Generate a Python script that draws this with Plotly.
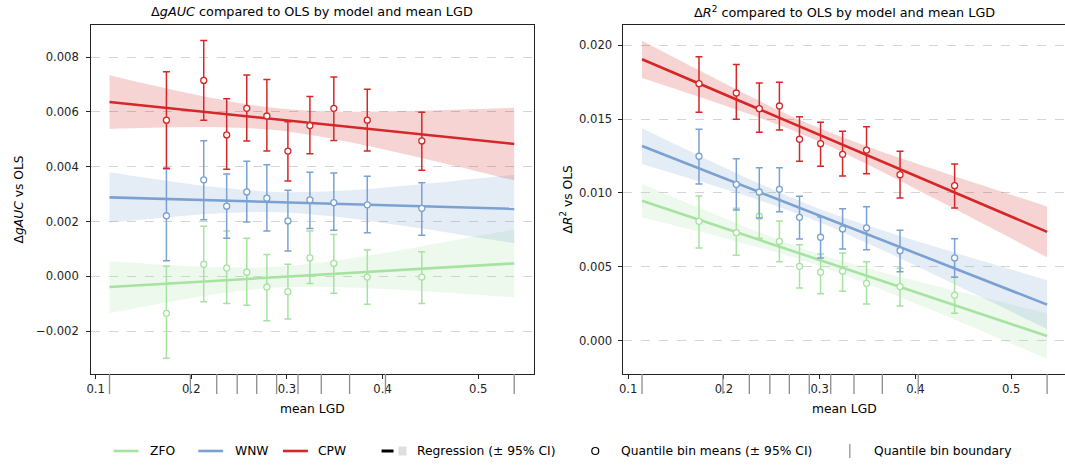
import plotly.graph_objects as go

W, H = 1065, 465

# ---------------- data ----------------
models = ["ZFO", "WNW", "CPW"]
x_bin = [0.174, 0.213, 0.237, 0.258, 0.279, 0.301, 0.324, 0.349, 0.384, 0.441]
x_boundary = [0.1145, 0.199, 0.2266, 0.248, 0.2684, 0.2892, 0.3116, 0.3359, 0.3655, 0.403, 0.5376]
x_line = [0.1145, 0.5376]
x_band = [0.1145, 0.17, 0.23, 0.29, 0.35, 0.42, 0.48, 0.5376]
x_ticks = [0.1, 0.2, 0.3, 0.4, 0.5]
x_ticklabels = ["0.1", "0.2", "0.3", "0.4", "0.5"]

# Left panel: delta gAUC
gauc_ticks = [-0.002, 0.0, 0.002, 0.004, 0.006, 0.008]
gauc_ticklabels = ["\u22120.002", "0.000", "0.002", "0.004", "0.006", "0.008"]

gauc_zfo_mean = [-0.00135, 0.00044, 0.00030, 0.00015, -0.00039, -0.00056, 0.00067, 0.00047, -0.00003, -0.00003]
gauc_zfo_lo = [-0.00299, -0.00093, -0.00099, -0.00106, -0.00162, -0.00156, -0.00026, -0.00062, -0.00102, -0.00099]
gauc_zfo_hi = [0.00037, 0.00183, 0.00165, 0.00139, 0.00080, 0.00044, 0.00165, 0.00153, 0.00096, 0.00090]

gauc_wnw_mean = [0.00221, 0.00352, 0.00256, 0.00308, 0.00285, 0.00202, 0.00279, 0.00269, 0.00261, 0.00248]
gauc_wnw_lo = [0.00057, 0.00206, 0.00139, 0.00198, 0.00165, 0.00092, 0.00174, 0.00168, 0.00159, 0.00150]
gauc_wnw_hi = [0.00392, 0.00495, 0.00373, 0.00420, 0.00407, 0.00314, 0.00380, 0.00377, 0.00365, 0.00341]

gauc_cpw_mean = [0.00570, 0.00715, 0.00516, 0.00613, 0.00585, 0.00457, 0.00550, 0.00613, 0.00570, 0.00494]
gauc_cpw_lo = [0.00394, 0.00570, 0.00391, 0.00494, 0.00457, 0.00348, 0.00447, 0.00496, 0.00457, 0.00387]
gauc_cpw_hi = [0.00747, 0.00861, 0.00648, 0.00735, 0.00718, 0.00564, 0.00656, 0.00727, 0.00683, 0.00599]

gauc_zfo_line = [-0.00039, 0.00047]
gauc_wnw_line = [0.00288, 0.00246]
gauc_cpw_line = [0.00636, 0.00483]

gauc_zfo_band_hi = [0.00056, 0.00042, 0.00033, 0.00035, 0.00057, 0.00096, 0.00135, 0.00171]
gauc_zfo_band_lo = [-0.00134, -0.00098, -0.00063, -0.00041, -0.00039, -0.00050, -0.00063, -0.00077]
gauc_wnw_band_hi = [0.00380, 0.00351, 0.00324, 0.00308, 0.00311, 0.00330, 0.00350, 0.00370]
gauc_wnw_band_lo = [0.00196, 0.00214, 0.00230, 0.00234, 0.00218, 0.00185, 0.00153, 0.00121]
gauc_cpw_band_hi = [0.00734, 0.00689, 0.00645, 0.00613, 0.00601, 0.00603, 0.00609, 0.00615]
gauc_cpw_band_lo = [0.00538, 0.00543, 0.00544, 0.00533, 0.00500, 0.00448, 0.00399, 0.00350]

# Right panel: delta R^2
r2_ticks = [0.0, 0.005, 0.010, 0.015, 0.020]
r2_ticklabels = ["0.000", "0.005", "0.010", "0.015", "0.020"]

r2_zfo_mean = [0.00808, 0.00731, 0.00842, 0.00672, 0.00503, 0.00463, 0.00470, 0.00388, 0.00366, 0.00307]
r2_zfo_lo = [0.00627, 0.00578, 0.00693, 0.00535, 0.00357, 0.00318, 0.00334, 0.00248, 0.00235, 0.00185]
r2_zfo_hi = [0.00979, 0.00896, 0.00990, 0.00810, 0.00650, 0.00587, 0.00593, 0.00535, 0.00490, 0.00431]

r2_wnw_mean = [0.01248, 0.01058, 0.01006, 0.01024, 0.00835, 0.00700, 0.00756, 0.00763, 0.00609, 0.00560]
r2_wnw_lo = [0.01060, 0.00884, 0.00830, 0.00873, 0.00688, 0.00560, 0.00620, 0.00616, 0.00467, 0.00429]
r2_wnw_hi = [0.01430, 0.01231, 0.01170, 0.01170, 0.00977, 0.00837, 0.00893, 0.00907, 0.00747, 0.00690]

r2_cpw_mean = [0.01739, 0.01676, 0.01570, 0.01588, 0.01363, 0.01333, 0.01261, 0.01290, 0.01123, 0.01049]
r2_cpw_lo = [0.01545, 0.01498, 0.01410, 0.01426, 0.01214, 0.01180, 0.01114, 0.01130, 0.00965, 0.00898]
r2_cpw_hi = [0.01922, 0.01868, 0.01744, 0.01748, 0.01516, 0.01478, 0.01417, 0.01448, 0.01281, 0.01196]

r2_zfo_line = [0.00947, 0.00032]
r2_wnw_line = [0.01317, 0.00244]
r2_cpw_line = [0.01904, 0.00736]

r2_zfo_band_hi = [0.01060, 0.00909, 0.00751, 0.00607, 0.00491, 0.00374, 0.00277, 0.00186]
r2_zfo_band_lo = [0.00834, 0.00745, 0.00643, 0.00527, 0.00384, 0.00199, 0.00036, -0.00122]
r2_wnw_band_hi = [0.01438, 0.01265, 0.01083, 0.00917, 0.00779, 0.00637, 0.00520, 0.00409]
r2_wnw_band_lo = [0.01196, 0.01087, 0.00965, 0.00827, 0.00660, 0.00447, 0.00260, 0.00079]
r2_cpw_band_hi = [0.02030, 0.01843, 0.01645, 0.01464, 0.01314, 0.01158, 0.01030, 0.00908]
r2_cpw_band_lo = [0.01778, 0.01659, 0.01525, 0.01374, 0.01193, 0.00962, 0.00760, 0.00564]

# ---------------- styling ----------------
colors = {"ZFO": "#a6e3a0", "WNW": "#7aa1d2", "CPW": "#d62728"}
band_colors = {"ZFO": "rgba(166,227,160,0.2)", "WNW": "rgba(122,161,210,0.2)", "CPW": "rgba(214,39,40,0.2)"}
FONT = "DejaVu Sans"
TICK_SIZE = 11.6
LABEL_SIZE = 12.3
TITLE_SIZE = 12.8
AXC = "#222222"

panels = {
    "gauc": {
        "xa": "x", "ya": "y",
        "mean": {"ZFO": gauc_zfo_mean, "WNW": gauc_wnw_mean, "CPW": gauc_cpw_mean},
        "lo": {"ZFO": gauc_zfo_lo, "WNW": gauc_wnw_lo, "CPW": gauc_cpw_lo},
        "hi": {"ZFO": gauc_zfo_hi, "WNW": gauc_wnw_hi, "CPW": gauc_cpw_hi},
        "line": {"ZFO": gauc_zfo_line, "WNW": gauc_wnw_line, "CPW": gauc_cpw_line},
        "bhi": {"ZFO": gauc_zfo_band_hi, "WNW": gauc_wnw_band_hi, "CPW": gauc_cpw_band_hi},
        "blo": {"ZFO": gauc_zfo_band_lo, "WNW": gauc_wnw_band_lo, "CPW": gauc_cpw_band_lo},
    },
    "r2": {
        "xa": "x2", "ya": "y2",
        "mean": {"ZFO": r2_zfo_mean, "WNW": r2_wnw_mean, "CPW": r2_cpw_mean},
        "lo": {"ZFO": r2_zfo_lo, "WNW": r2_wnw_lo, "CPW": r2_cpw_lo},
        "hi": {"ZFO": r2_zfo_hi, "WNW": r2_wnw_hi, "CPW": r2_cpw_hi},
        "line": {"ZFO": r2_zfo_line, "WNW": r2_wnw_line, "CPW": r2_cpw_line},
        "bhi": {"ZFO": r2_zfo_band_hi, "WNW": r2_wnw_band_hi, "CPW": r2_cpw_band_hi},
        "blo": {"ZFO": r2_zfo_band_lo, "WNW": r2_wnw_band_lo, "CPW": r2_cpw_band_lo},
    },
}

fig = go.Figure()

for key, p in panels.items():
    xa, ya = p["xa"], p["ya"]
    for m in models:
        # CI band
        fig.add_trace(go.Scatter(x=x_band, y=p["blo"][m], xaxis=xa, yaxis=ya, mode="lines",
                                 line=dict(width=0, shape="spline", smoothing=1.0),
                                 showlegend=False, hoverinfo="skip"))
        fig.add_trace(go.Scatter(x=x_band, y=p["bhi"][m], xaxis=xa, yaxis=ya, mode="lines",
                                 line=dict(width=0, shape="spline", smoothing=1.0),
                                 fill="tonexty", fillcolor=band_colors[m],
                                 showlegend=False, hoverinfo="skip"))
    for m in models:
        c = colors[m]
        # regression line
        fig.add_trace(go.Scatter(x=x_line, y=p["line"][m], xaxis=xa, yaxis=ya, mode="lines",
                                 line=dict(color=c, width=2.6), showlegend=False))
        # quantile bin means with CI
        mean = p["mean"][m]
        err_plus = [h - v for h, v in zip(p["hi"][m], mean)]
        err_minus = [v - l for l, v in zip(p["lo"][m], mean)]
        fig.add_trace(go.Scatter(x=x_bin, y=mean, xaxis=xa, yaxis=ya, mode="markers",
                                 marker=dict(symbol="circle", size=6, color="white",
                                             line=dict(color=c, width=1.3)),
                                 error_y=dict(type="data", array=err_plus, arrayminus=err_minus,
                                              color=c, thickness=1.5, width=3.5),
                                 showlegend=False))

# quantile bin boundary marks under each x axis
shapes = []
for xa in ["x", "x2"]:
    yref = "y domain" if xa == "x" else "y2 domain"
    for b in x_boundary:
        shapes.append(dict(type="line", xref=xa, yref=yref, x0=b, x1=b, y0=0, y1=-20 / 349,
                           line=dict(color="#8c8c8c", width=1.3)))

y_dom = [1 - 374 / H, 1 - 25 / H]
axis_common = dict(showline=True, linecolor=AXC, linewidth=1, ticks="outside", ticklen=3.5,
                   tickwidth=0.9, tickcolor=AXC, zeroline=False,
                   tickfont=dict(family=FONT, size=TICK_SIZE, color=AXC))

fig.update_layout(
    width=W, height=H,
    margin=dict(l=0, r=0, t=0, b=0),
    paper_bgcolor="white", plot_bgcolor="white",
    showlegend=False,
    font=dict(family=FONT, size=TICK_SIZE, color=AXC),
    xaxis=dict(domain=[87 / W, 532 / W], range=[0.0948, 0.5583], tickvals=x_ticks, ticktext=x_ticklabels,
               mirror=True, showgrid=False, anchor="y", ticklabelstandoff=1, **axis_common),
    yaxis=dict(domain=y_dom, range=[-0.003566, 0.009172], tickvals=gauc_ticks, ticktext=gauc_ticklabels,
               mirror=True, showgrid=True, gridcolor="#d4d4d4", griddash="dash", gridwidth=0.8,
               anchor="x", ticklabelstandoff=5, **axis_common),
    xaxis2=dict(domain=[621.3 / W, 1.0], range=[0.0946, 0.5563], tickvals=x_ticks, ticktext=x_ticklabels,
                mirror=True, showgrid=False, anchor="y2", ticklabelstandoff=1, **axis_common),
    yaxis2=dict(domain=y_dom, range=[-0.002253, 0.02136], tickvals=r2_ticks, ticktext=r2_ticklabels,
                mirror=False, showgrid=True, gridcolor="#d4d4d4", griddash="dash", gridwidth=0.8,
                anchor="x2", ticklabelstandoff=4, **axis_common),
)

ann = []
def A(text, x, y, size=LABEL_SIZE, xanchor="center", yanchor="middle", angle=0):
    ann.append(dict(text=text, x=x / W, y=1 - y / H, xref="paper", yref="paper", showarrow=False,
                    xanchor=xanchor, yanchor=yanchor, textangle=angle,
                    font=dict(family=FONT, size=size, color="black")))

# titles
A("\u0394<i>gAUC</i> compared to OLS by model and mean LGD", 309.5, 12, size=TITLE_SIZE)
A("\u0394<i>R</i><sup>2</sup> compared to OLS by model and mean LGD", 843.5, 12, size=TITLE_SIZE)
# axis titles
A("mean LGD", 309.5, 409)
A("mean LGD", 843.5, 409)
A("\u0394<i>gAUC</i> vs OLS", 16, 199.5, angle=-90)
A("\u0394<i>R</i><sup>2</sup> vs OLS", 565, 199.5, angle=-90)

# legend (manual, bottom)
LY = 451
leg_shapes = []
def LS(**kw):
    leg_shapes.append(kw)
for m, x0, tx in [("ZFO", 110, 145), ("WNW", 195, 230), ("CPW", 280, 313)]:
    LS(type="line", xref="paper", yref="paper", x0=x0 / W, x1=(x0 + 25) / W, y0=1 - LY / H, y1=1 - LY / H,
       line=dict(color=colors[m], width=2.6))
    A(m, tx, LY, xanchor="left")
# Regression
LS(type="line", xref="paper", yref="paper", x0=379 / W, x1=391 / W, y0=1 - LY / H, y1=1 - LY / H,
   line=dict(color="black", width=3))
LS(type="rect", xref="paper", yref="paper", x0=396 / W, x1=404 / W, y0=1 - (LY + 4.5) / H, y1=1 - (LY - 4.5) / H,
   line=dict(width=0), fillcolor="#dedede")
A("Regression (\u00b1 95% CI)", 413, LY, xanchor="left")
# Quantile bin means
LS(type="circle", xref="paper", yref="paper", x0=590 / W, x1=597 / W, y0=1 - (LY + 3.5) / H, y1=1 - (LY - 3.5) / H,
   line=dict(color="black", width=1.2), fillcolor="white")
A("Quantile bin means (\u00b1 95% CI)", 617, LY, xanchor="left")
# Quantile bin boundary
LS(type="line", xref="paper", yref="paper", x0=849 / W, x1=849 / W, y0=1 - (LY + 7) / H, y1=1 - (LY - 7) / H,
   line=dict(color="#8c8c8c", width=1.2))
A("Quantile bin boundary", 871, LY, xanchor="left")

fig.update_layout(annotations=ann, shapes=shapes + leg_shapes)

fig.write_html("out.html")
